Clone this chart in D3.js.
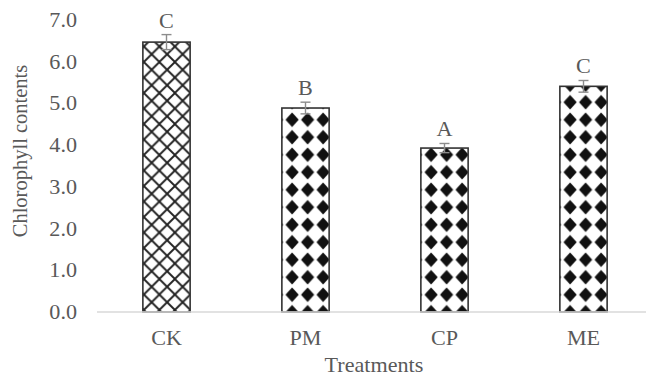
<!DOCTYPE html>
<html>
<head>
<meta charset="utf-8">
<script src="https://cdn.jsdelivr.net/npm/d3@7"></script>
<style>
  html, body { margin: 0; padding: 0; background: #fff; }
  text { font-family: "Liberation Serif", "Times New Roman", serif; fill: #595959; }
</style>
</head>
<body>
<div id="chart"></div>
<script>
// chart data
const categories = ["CK", "PM", "CP", "ME"];
const values = [6.47, 4.89, 3.93, 5.41];
const errors = [0.18, 0.14, 0.11, 0.14];
const letters = ["C", "B", "A", "C"];
const yTicks = [0, 1, 2, 3, 4, 5, 6, 7];

const w = 646, h = 377;
const fontSize = 20.5;
const stretch = 1.08; // text in the picture is a bit wide

const svg = d3.select("#chart").append("svg")
  .attr("width", w)
  .attr("height", h);

const x = d3.scaleBand()
  .domain(categories)
  .range([97, 653])
  .paddingInner(0.66)
  .paddingOuter(0.33);

const y = d3.scaleLinear()
  .domain([0, 7])
  .range([312, 20]);

// fill patterns
const defs = svg.append("defs");

const lattice = defs.append("pattern")
  .attr("id", "lattice")
  .attr("patternUnits", "userSpaceOnUse")
  .attr("x", x("CK") + 1)
  .attr("y", 0)
  .attr("width", 15.5)
  .attr("height", 15.5);
lattice.append("rect").attr("width", 15.5).attr("height", 15.5).attr("fill", "#fff");
lattice.append("path")
  .attr("d", "M0,0L15.5,15.5M15.5,0L0,15.5")
  .attr("stroke", "#222")
  .attr("stroke-width", 1.9)
  .attr("fill", "none");

categories.slice(1).forEach(function(c) {
  const p = defs.append("pattern")
    .attr("id", "stars-" + c)
    .attr("patternUnits", "userSpaceOnUse")
    .attr("x", x(c) + 2.5)
    .attr("y", 6)
    .attr("width", 15.5)
    .attr("height", 17.5);
  p.append("rect").attr("width", 15.5).attr("height", 17.5).attr("fill", "#fff");
  p.append("path")
    .attr("transform", "translate(7.75,8.75)")
    .attr("d", "M0,-7.2Q3.4,-3.6 6.6,0Q3.4,3.6 0,7.2Q-3.4,3.6 -6.6,0Q-3.4,-3.6 0,-7.2Z")
    .attr("fill", "#111");
});

function fillFor(c) {
  return c === "CK" ? "url(#lattice)" : "url(#stars-" + c + ")";
}

// bars
svg.selectAll("rect.bar")
  .data(categories)
  .enter()
  .append("rect")
  .attr("class", "bar")
  .attr("x", function(d) { return x(d); })
  .attr("y", function(d, i) { return y(values[i]); })
  .attr("width", x.bandwidth())
  .attr("height", function(d, i) { return y(0) - y(values[i]); })
  .attr("fill", function(d) { return fillFor(d); })
  .attr("stroke", "#333")
  .attr("stroke-width", 1.6);

// axis line
svg.append("line")
  .attr("x1", 97).attr("x2", w)
  .attr("y1", y(0)).attr("y2", y(0))
  .attr("stroke", "#d9d9d9")
  .attr("stroke-width", 1.5);

// error bars
const eb = svg.selectAll("g.err")
  .data(categories)
  .enter()
  .append("g")
  .attr("class", "err")
  .attr("stroke", "#8c8c8c")
  .attr("stroke-width", 1.4);

eb.append("line")
  .attr("x1", function(d) { return x(d) + x.bandwidth() / 2; })
  .attr("x2", function(d) { return x(d) + x.bandwidth() / 2; })
  .attr("y1", function(d, i) { return y(values[i] + errors[i]); })
  .attr("y2", function(d, i) { return y(values[i] - errors[i]); });

[1, -1].forEach(function(s) {
  eb.append("line")
    .attr("x1", function(d) { return x(d) + x.bandwidth() / 2 - 5; })
    .attr("x2", function(d) { return x(d) + x.bandwidth() / 2 + 5; })
    .attr("y1", function(d, i) { return y(values[i] + s * errors[i]); })
    .attr("y2", function(d, i) { return y(values[i] + s * errors[i]); });
});

// helper for slightly wide text
function label(tx, ty, str, anchor) {
  return svg.append("text")
    .attr("transform", "translate(" + tx + "," + ty + ") scale(" + stretch + ",1)")
    .attr("text-anchor", anchor)
    .attr("font-size", fontSize)
    .text(str);
}

// significance letters
categories.forEach(function(c, i) {
  label(x(c) + x.bandwidth() / 2, y(values[i] + errors[i]) - 7, letters[i], "middle");
});

// y tick labels
yTicks.forEach(function(t) {
  label(77, y(t) + 7, d3.format(".1f")(t), "end");
});

// x tick labels
categories.forEach(function(c) {
  label(x(c) + x.bandwidth() / 2, 345, c, "middle");
});

// axis titles
label(374, 372, "Treatments", "middle");
svg.append("text")
  .attr("transform", "translate(27,151) rotate(-90)")
  .attr("text-anchor", "middle")
  .attr("font-size", fontSize)
  .text("Chlorophyll contents");
</script>
</body>
</html>
